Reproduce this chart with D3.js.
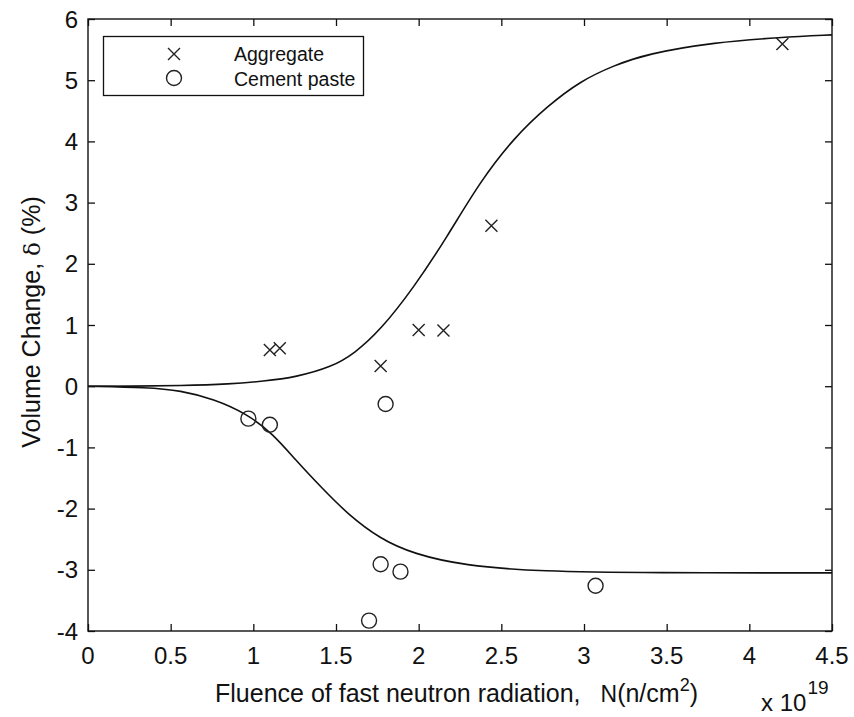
<!DOCTYPE html>
<html>
<head>
<meta charset="utf-8">
<script src="https://cdn.jsdelivr.net/npm/d3@7"></script>
<style>
body { margin:0; background:#fff; }
svg text { font-family: "Liberation Sans", Arial, sans-serif; fill:#111; }
</style>
</head>
<body>
<script>
// measured points
var aggX = [1.10, 1.16, 1.77, 2.00, 2.15, 2.44, 4.20];
var aggY = [0.59, 0.62, 0.33, 0.92, 0.91, 2.62, 5.59];
var cemX = [0.97, 1.10, 1.80, 1.77, 1.89, 1.70, 3.07];
var cemY = [-0.53, -0.63, -0.29, -2.91, -3.03, -3.83, -3.26];

// fitted curves
var fitAggX = [0, 0.26, 0.56, 0.86, 1.06, 1.26, 1.47, 1.61, 1.77, 1.97, 2.17, 2.37, 2.58, 2.78, 2.98, 3.18, 3.38, 3.79, 4.19, 4.5];
var fitAggY = [0, 0, 0.01, 0.035, 0.08, 0.15, 0.31, 0.53, 0.92, 1.61, 2.43, 3.34, 4.07, 4.58, 4.99, 5.24, 5.43, 5.62, 5.70, 5.74];
var fitCemX = [0, 0.36, 0.56, 0.76, 0.96, 1.12, 1.26, 1.41, 1.57, 1.77, 1.97, 2.27, 2.74, 3.40, 4.5];
var fitCemY = [0, -0.02, -0.07, -0.21, -0.45, -0.78, -1.22, -1.65, -2.09, -2.50, -2.74, -2.93, -3.03, -3.05, -3.05];

var xTicks = [0, 0.5, 1, 1.5, 2, 2.5, 3, 3.5, 4, 4.5];
var yTicks = [-4, -3, -2, -1, 0, 1, 2, 3, 4, 5, 6];
var legendNames = ["Aggregate", "Cement paste"];

var W = 854, H = 717;
var pLeft = 88, pTop = 19, pRight = 832, pBottom = 631;

var svg = d3.select("body").append("svg").attr("width", W).attr("height", H);

var x = d3.scaleLinear().domain([0, 4.5]).range([pLeft, pRight]);
var y = d3.scaleLinear().domain([-4, 6]).range([pBottom, pTop]);

var tickFmt = function(d){ return String(d); };

// inner ticks on all four sides
svg.append("g").attr("transform", "translate(0," + pBottom + ")")
  .call(d3.axisBottom(x).tickValues(xTicks).tickSize(-7).tickFormat(""));
svg.append("g").attr("transform", "translate(0," + pTop + ")")
  .call(d3.axisTop(x).tickValues(xTicks).tickSize(-7).tickFormat(""));
svg.append("g").attr("transform", "translate(" + pLeft + ",0)")
  .call(d3.axisLeft(y).tickValues(yTicks).tickSize(-7).tickFormat(""));
svg.append("g").attr("transform", "translate(" + pRight + ",0)")
  .call(d3.axisRight(y).tickValues(yTicks).tickSize(-7).tickFormat(""));
svg.selectAll(".domain").remove();
svg.selectAll(".tick line").attr("stroke", "#111").attr("stroke-width", 1.3);

svg.append("rect").attr("x", pLeft).attr("y", pTop)
  .attr("width", pRight - pLeft).attr("height", pBottom - pTop)
  .attr("fill", "none").attr("stroke", "#111").attr("stroke-width", 1.4);

// tick labels
svg.selectAll(".xl").data(xTicks).enter().append("text")
  .attr("x", function(d){ return x(d); }).attr("y", 664)
  .attr("text-anchor", "middle").attr("font-size", 24).text(tickFmt);
svg.selectAll(".yl").data(yTicks).enter().append("text")
  .attr("x", 78).attr("y", function(d){ return y(d) + 8.5; })
  .attr("text-anchor", "end").attr("font-size", 24).text(tickFmt);

// axis titles
var xt = svg.append("text").attr("x", 215).attr("y", 702).attr("font-size", 25);
xt.append("tspan").text("Fluence of fast neutron radiation,");
xt.append("tspan").attr("dx", 20).attr("font-size", 23).text("N");
xt.append("tspan").text("(n/cm");
xt.append("tspan").attr("font-size", 18).attr("dy", -11).text("2");
xt.append("tspan").attr("dy", 11).text(")");

var ex = svg.append("text").attr("x", 761).attr("y", 711).attr("font-size", 24);
ex.append("tspan").text("x 10");
ex.append("tspan").attr("font-size", 19).attr("dy", -17).attr("dx", 1).text("19");

var yt = svg.append("text").attr("transform", "translate(40,322) rotate(-90)")
  .attr("text-anchor", "middle").attr("font-size", 25);
yt.append("tspan").text("Volume Change, ");
yt.append("tspan").attr("font-family", "DejaVu Serif, serif").attr("font-size", 23).text("δ");
yt.append("tspan").text(" (%)");

// fitted curves
var line = d3.line().x(function(d){ return x(d[0]); }).y(function(d){ return y(d[1]); })
  .curve(d3.curveBasis);
var fitAgg = d3.zip(fitAggX, fitAggY);
var fitCem = d3.zip(fitCemX, fitCemY);
[fitAgg, fitCem].forEach(function(pts){
  svg.append("path").attr("d", line(pts)).attr("fill", "none")
    .attr("stroke", "#111").attr("stroke-width", 1.6);
});

// markers
function cross(g, cx, cy){
  var s = 6;
  g.append("path").attr("d", "M" + (cx - s) + "," + (cy - s) + "L" + (cx + s) + "," + (cy + s) +
      "M" + (cx - s) + "," + (cy + s) + "L" + (cx + s) + "," + (cy - s))
    .attr("stroke", "#222").attr("stroke-width", 1.4).attr("fill", "none");
}
var agg = d3.zip(aggX, aggY);
var cem = d3.zip(cemX, cemY);
var gm = svg.append("g");
agg.forEach(function(d){ cross(gm, x(d[0]), y(d[1])); });
gm.selectAll("circle").data(cem).enter().append("circle")
  .attr("cx", function(d){ return x(d[0]); }).attr("cy", function(d){ return y(d[1]); })
  .attr("r", 7.5).attr("fill", "none").attr("stroke", "#222").attr("stroke-width", 1.4);

// legend
var lg = svg.append("g");
lg.append("rect").attr("x", 103.5).attr("y", 36.5).attr("width", 260).attr("height", 59)
  .attr("fill", "#fff").attr("stroke", "#111").attr("stroke-width", 1.3);
cross(lg, 174, 54);
lg.append("circle").attr("cx", 174).attr("cy", 78).attr("r", 7.5)
  .attr("fill", "none").attr("stroke", "#222").attr("stroke-width", 1.4);
lg.selectAll(".lt").data(legendNames).enter().append("text")
  .attr("x", 234).attr("y", function(d, i){ return 60.5 + i * 25.5; })
  .attr("font-size", 19.5).text(function(d){ return d; });
</script>
</body>
</html>
